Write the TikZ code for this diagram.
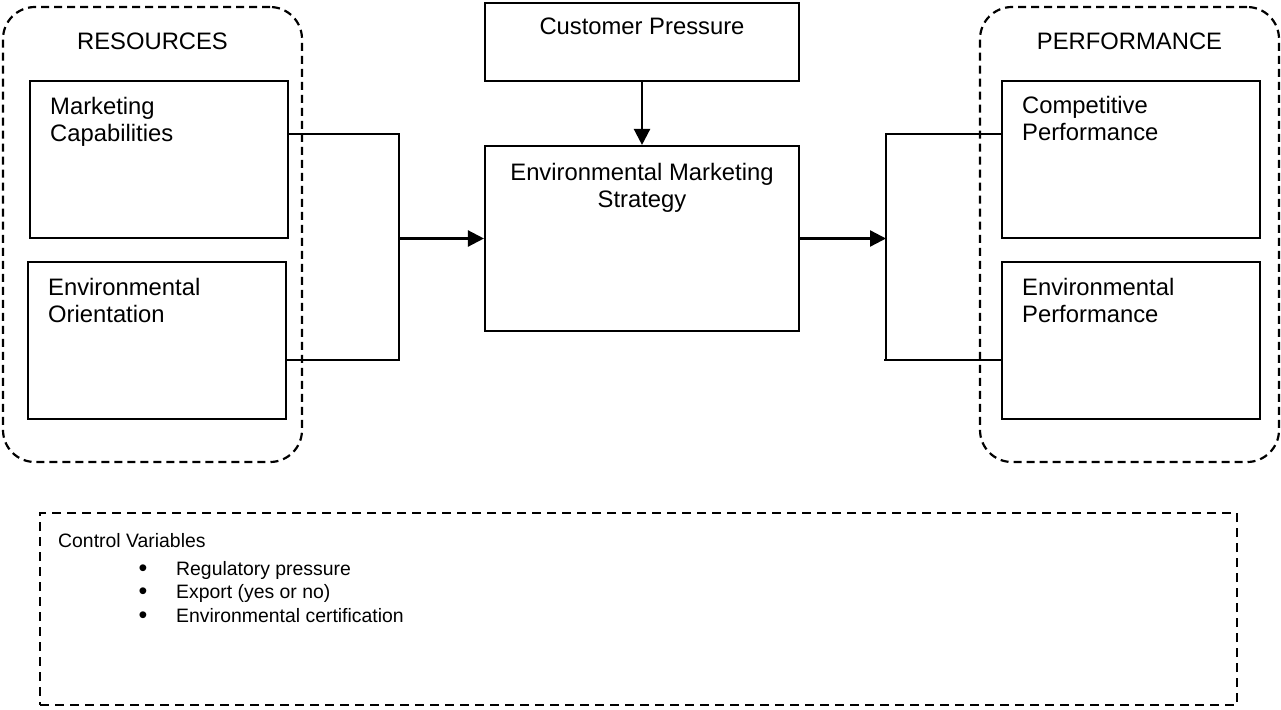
\documentclass[tikz,border=0pt]{standalone}
\usepackage{fontspec}
\setmainfont{Liberation Sans}
\usetikzlibrary{arrows.meta}
\begin{document}
\begin{tikzpicture}[x=1pt,y=-1pt,
  box/.style={draw,line width=2.1pt,inner sep=0pt,rectangle},
  group/.style={draw,line width=2.2pt,dash pattern=on 8pt off 5pt,rounded corners=32pt,inner sep=0pt,rectangle},
  ctrlbox/.style={draw,line width=2.2pt,dash pattern=on 9pt off 6pt,inner sep=0pt,rectangle},
  lbl/.style={inner sep=0pt,font=\fontsize{23.8pt}{27pt}\selectfont},
  small/.style={inner sep=0pt,font=\fontsize{19.4pt}{23pt}\selectfont},
  bul/.style={inner sep=0pt,font=\fontsize{25pt}{23pt}\selectfont},
  conn/.style={line width=1.8pt},
  arr/.style={line width=2.3pt,-{Triangle[length=16pt,width=16pt]}}]
\useasboundingbox (0,0) rectangle (1281,709);
% groups
\node[group,minimum width=299pt,minimum height=455pt] (res) at (152.5,234.5) {};
\node[group,minimum width=299pt,minimum height=455pt] (perf) at (1129.5,234.5) {};
\node[ctrlbox,minimum width=1197pt,minimum height=192pt] (ctrl) at (638.5,609) {};
% boxes
\node[box,minimum width=258pt,minimum height=157pt] (mc) at (159,159.5) {};
\node[box,minimum width=258pt,minimum height=157pt] (eo) at (157,340.5) {};
\node[box,minimum width=314pt,minimum height=78pt] (cp) at (642,42) {};
\node[box,minimum width=314pt,minimum height=185pt] (ems) at (642,238.5) {};
\node[box,minimum width=258pt,minimum height=157pt] (comp) at (1131,159.5) {};
\node[box,minimum width=258pt,minimum height=157pt] (envp) at (1131,340.5) {};
% texts
\node[lbl,anchor=base] (tres) at (152.5,50) {RESOURCES};
\node[lbl,anchor=base] (tperf) at (1129.5,50) {PERFORMANCE};
\node[lbl,anchor=base west] (tmc1) at (50,114) {Marketing};
\node[lbl,anchor=base west] (tmc2) at (50,141) {Capabilities};
\node[lbl,anchor=base west] (teo1) at (48,295) {Environmental};
\node[lbl,anchor=base west] (teo2) at (48,322) {Orientation};
\node[lbl,anchor=base west] (tcomp1) at (1022,113) {Competitive};
\node[lbl,anchor=base west] (tcomp2) at (1022,140) {Performance};
\node[lbl,anchor=base west] (tenv1) at (1022,295) {Environmental};
\node[lbl,anchor=base west] (tenv2) at (1022,322) {Performance};
\node[lbl,anchor=base] (tcp) at (642,35) {Customer Pressure};
\node[lbl,anchor=base] (tems1) at (642,180) {Environmental Marketing};
\node[lbl,anchor=base] (tems2) at (642,207) {Strategy};
\node[small,anchor=base west] (tctrl) at (58,547) {Control Variables};
\node[bul,anchor=base] (b1) at (143,576) {•};
\node[bul,anchor=base] (b2) at (143,599) {•};
\node[bul,anchor=base] (b3) at (143,623) {•};
\node[small,anchor=base west] (i1) at (176,575) {Regulatory pressure};
\node[small,anchor=base west] (i2) at (176,598) {Export (yes or no)};
\node[small,anchor=base west] (i3) at (176,622) {Environmental certification};
% junction points
\coordinate (ljt) at (399,134);
\coordinate (ljb) at (399,360);
\coordinate (lj) at (399,238.5);
\coordinate (rjt) at (886,134);
\coordinate (rjb) at (886,360);
\coordinate (rj) at (886,238.5);
% connectors
\draw[conn] (mc.east |- ljt) -- (ljt) -- (ljb) -- ([xshift=-2pt]eo.east |- ljb);
\draw[arr] (lj) -- (ems.west);
\draw[arr] (ems.east) -- (rj);
\draw[conn] (comp.west |- rjt) -- (rjt) -- (rjb) -- ([xshift=-2pt]rjb);
\draw[conn] (rjb) -- (envp.west |- rjb);
\draw[arr] (cp.south) -- (ems.north);
\end{tikzpicture}
\end{document}
